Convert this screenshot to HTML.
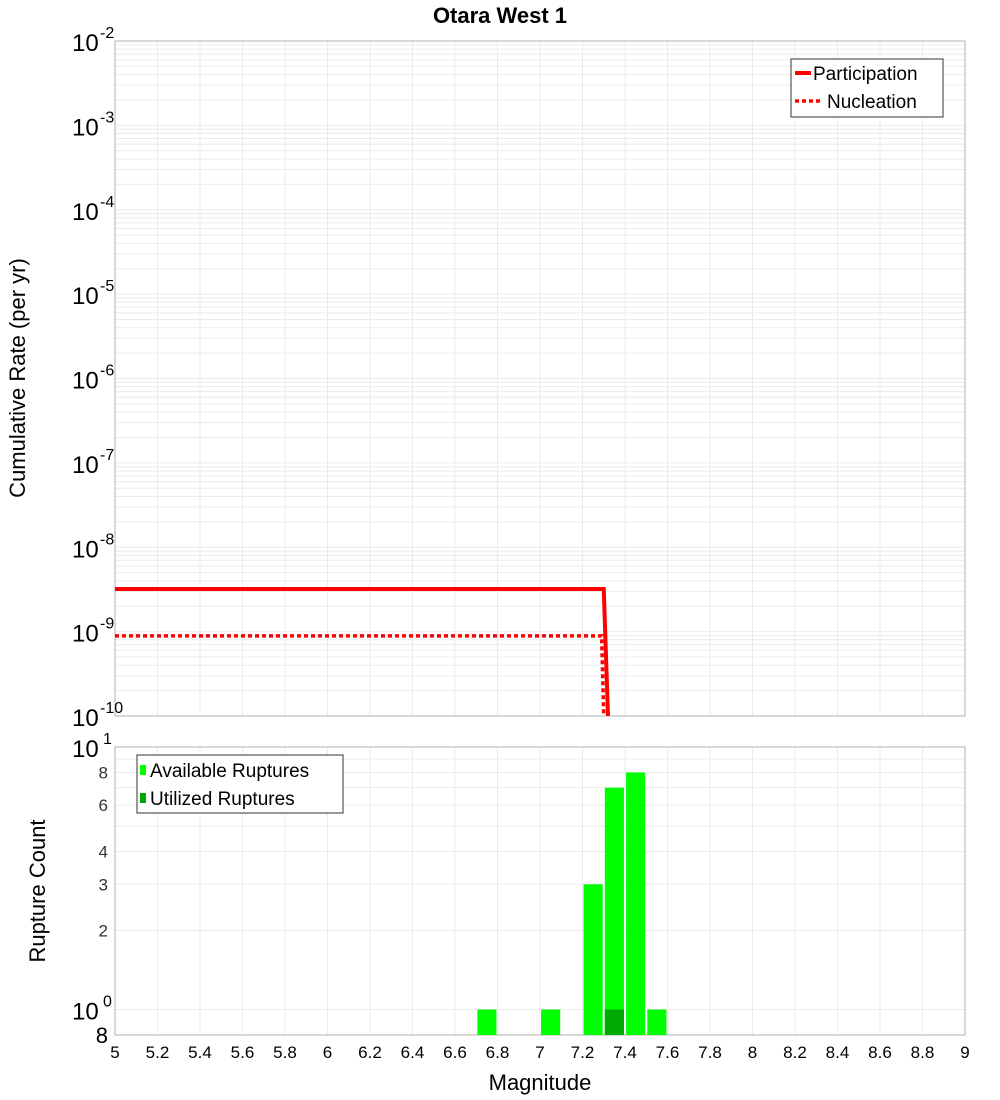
<!DOCTYPE html>
<html><head><meta charset="utf-8"><style>
body{margin:0;background:#fff;}
svg{display:block;font-family:"Liberation Sans","DejaVu Sans",sans-serif;}
</style></head><body>
<svg id="c" width="1000" height="1100"></svg>
<script>
const xTicks=[5,5.2,5.4,5.6,5.8,6,6.2,6.4,6.6,6.8,7,7.2,7.4,7.6,7.8,8,8.2,8.4,8.6,8.8,9];
const xTickLabels=["5","5.2","5.4","5.6","5.8","6","6.2","6.4","6.6","6.8","7","7.2","7.4","7.6","7.8","8","8.2","8.4","8.6","8.8","9"];
const topExps=[-2,-3,-4,-5,-6,-7,-8,-9,-10];
const partMag=[5,7.3,7.32];
const partRate=[3.2e-9,3.2e-9,1e-10];
const nuclMag=[5,7.29,7.3];
const nuclRate=[8.9e-10,8.9e-10,1e-10];
const binMags=[6.75,7.05,7.25,7.35,7.45,7.55];
const availCounts=[1,1,3,7,8,1];
const usedCounts=[0,0,0,1,0,0];
const botTicks=[8,6,4,3,2];
const NS="http://www.w3.org/2000/svg";
const svg=document.getElementById('c');
function mk(t,a,p){const e=document.createElementNS(NS,t);for(const k in a)e.setAttribute(k,a[k]);(p||svg).appendChild(e);return e;}
const X0=115,X1=965;
const xs=m=>X0+(m-5)/4*(X1-X0);
const T0=41,T1=716;
const ty=v=>T0+(-2-Math.log10(v))/8*(T1-T0);
const B0=747,B1=1035;
const by=v=>B0+(1-Math.log10(v))/(1-Math.log10(0.8))*(B1-B0);
// title
let t=mk('text',{x:500,y:23,'text-anchor':'middle','font-size':22,'font-weight':'bold'});t.textContent='Otara West 1';

// top grid
for(let e=-10;e<-2;e++)for(let k=1;k<10;k++){const y=ty(k*Math.pow(10,e));const l=mk('line',{x1:X0,x2:X1,y1:y,y2:y,stroke:'#ebebeb','stroke-width':1});}
xTicks.forEach(m=>{const l=mk('line',{x1:xs(m),x2:xs(m),y1:T0,y2:T1,stroke:'#ebebeb'});
 const l2=mk('line',{x1:xs(m),x2:xs(m),y1:B0,y2:B1,stroke:'#ebebeb'});});
[9,8,7,6,5,4,3,2,1].forEach(v=>{const l=mk('line',{x1:X0,x2:X1,y1:by(v),y2:by(v),stroke:'#ebebeb'});});
// top frame
let f=mk('rect',{x:X0,y:T0,width:X1-X0,height:T1-T0,fill:'none',stroke:'#b0b0b0'});
f=mk('rect',{x:X0,y:B0,width:X1-X0,height:B1-B0,fill:'none',stroke:'#b0b0b0'});
// top y ticks
topExps.forEach(e=>{const y=ty(Math.pow(10,e));const g=mk('text',{x:72,y:y+10,'font-size':24});g.textContent='10';
 
 const s=mk('text',{x:100,y:y-3,'font-size':16});s.textContent=String(e);});
t=mk('text',{x:25,y:378,'text-anchor':'middle','font-size':22,transform:'rotate(-90 25 378)'});t.textContent='Cumulative Rate (per yr)';

// lines
const clip=mk('clipPath',{id:'cp'});mk('rect',{x:X0,y:T0,width:X1-X0,height:T1-T0},clip);
let p=mk('polyline',{points:partMag.map((m,i)=>xs(m)+','+ty(partRate[i])).join(' '),fill:'none',stroke:'#ff0000','stroke-width':4,'clip-path':'url(#cp)'});

p=mk('polyline',{points:nuclMag.map((m,i)=>xs(m)+','+ty(nuclRate[i])).join(' '),fill:'none',stroke:'#ff0000','stroke-width':3.5,'stroke-dasharray':'4 3','clip-path':'url(#cp)'});

// top legend
let lg=mk('g',{});
mk('rect',{x:791,y:59,width:152,height:58,fill:'#fff',stroke:'#333'},lg);
mk('line',{x1:795,x2:811,y1:73,y2:73,stroke:'#f00','stroke-width':4},lg);
mk('line',{x1:795,x2:821,y1:101,y2:101,stroke:'#f00','stroke-width':3.5,'stroke-dasharray':'4 3'},lg);
t=mk('text',{x:813,y:80,'font-size':19},lg);t.textContent='Participation';
t=mk('text',{x:827,y:108,'font-size':19},lg);t.textContent='Nucleation';
// bars
const bw=(X1-X0)/40*0.9;
binMags.forEach((m,i)=>{const r=mk('rect',{x:xs(m)-bw/2,y:by(availCounts[i]),width:bw,height:B1-by(availCounts[i]),fill:'#00ff00'});
 
 if(usedCounts[i]>0){const u=mk('rect',{x:xs(m)-bw/2,y:by(usedCounts[i]),width:bw,height:B1-by(usedCounts[i]),fill:'#00aa00'});
 }});
// bottom y ticks
botTicks.forEach(v=>{const g=mk('text',{x:108,y:by(v)+6,'text-anchor':'end','font-size':17,fill:'#333'});g.textContent=String(v);
 });
[[1,'1',by(10)],[0,'0',by(1)]].forEach(a=>{const g=mk('text',{x:72,y:a[2]+10,'font-size':24});g.textContent='10';
 const s=mk('text',{x:103,y:a[2]-3,'font-size':16});s.textContent=a[1];});
t=mk('text',{x:108,y:1043,'text-anchor':'end','font-size':22});t.textContent='8';
t=mk('text',{x:45,y:891,'text-anchor':'middle','font-size':22,transform:'rotate(-90 45 891)'});t.textContent='Rupture Count';

// bottom legend
lg=mk('g',{});
mk('rect',{x:137,y:755,width:206,height:58,fill:'#fff',stroke:'#333'},lg);
mk('rect',{x:140,y:765,width:6,height:10,fill:'#00ff00'},lg);
mk('rect',{x:140,y:793,width:6,height:10,fill:'#00aa00'},lg);
t=mk('text',{x:150,y:777,'font-size':19},lg);t.textContent='Available Ruptures';
t=mk('text',{x:150,y:805,'font-size':19},lg);t.textContent='Utilized Ruptures';
// x ticks
xTicks.forEach((m,i)=>{const g=mk('text',{x:xs(m),y:1058,'text-anchor':'middle','font-size':17});g.textContent=xTickLabels[i];
 });
t=mk('text',{x:540,y:1090,'text-anchor':'middle','font-size':22});t.textContent='Magnitude';

</script>
</body></html>
